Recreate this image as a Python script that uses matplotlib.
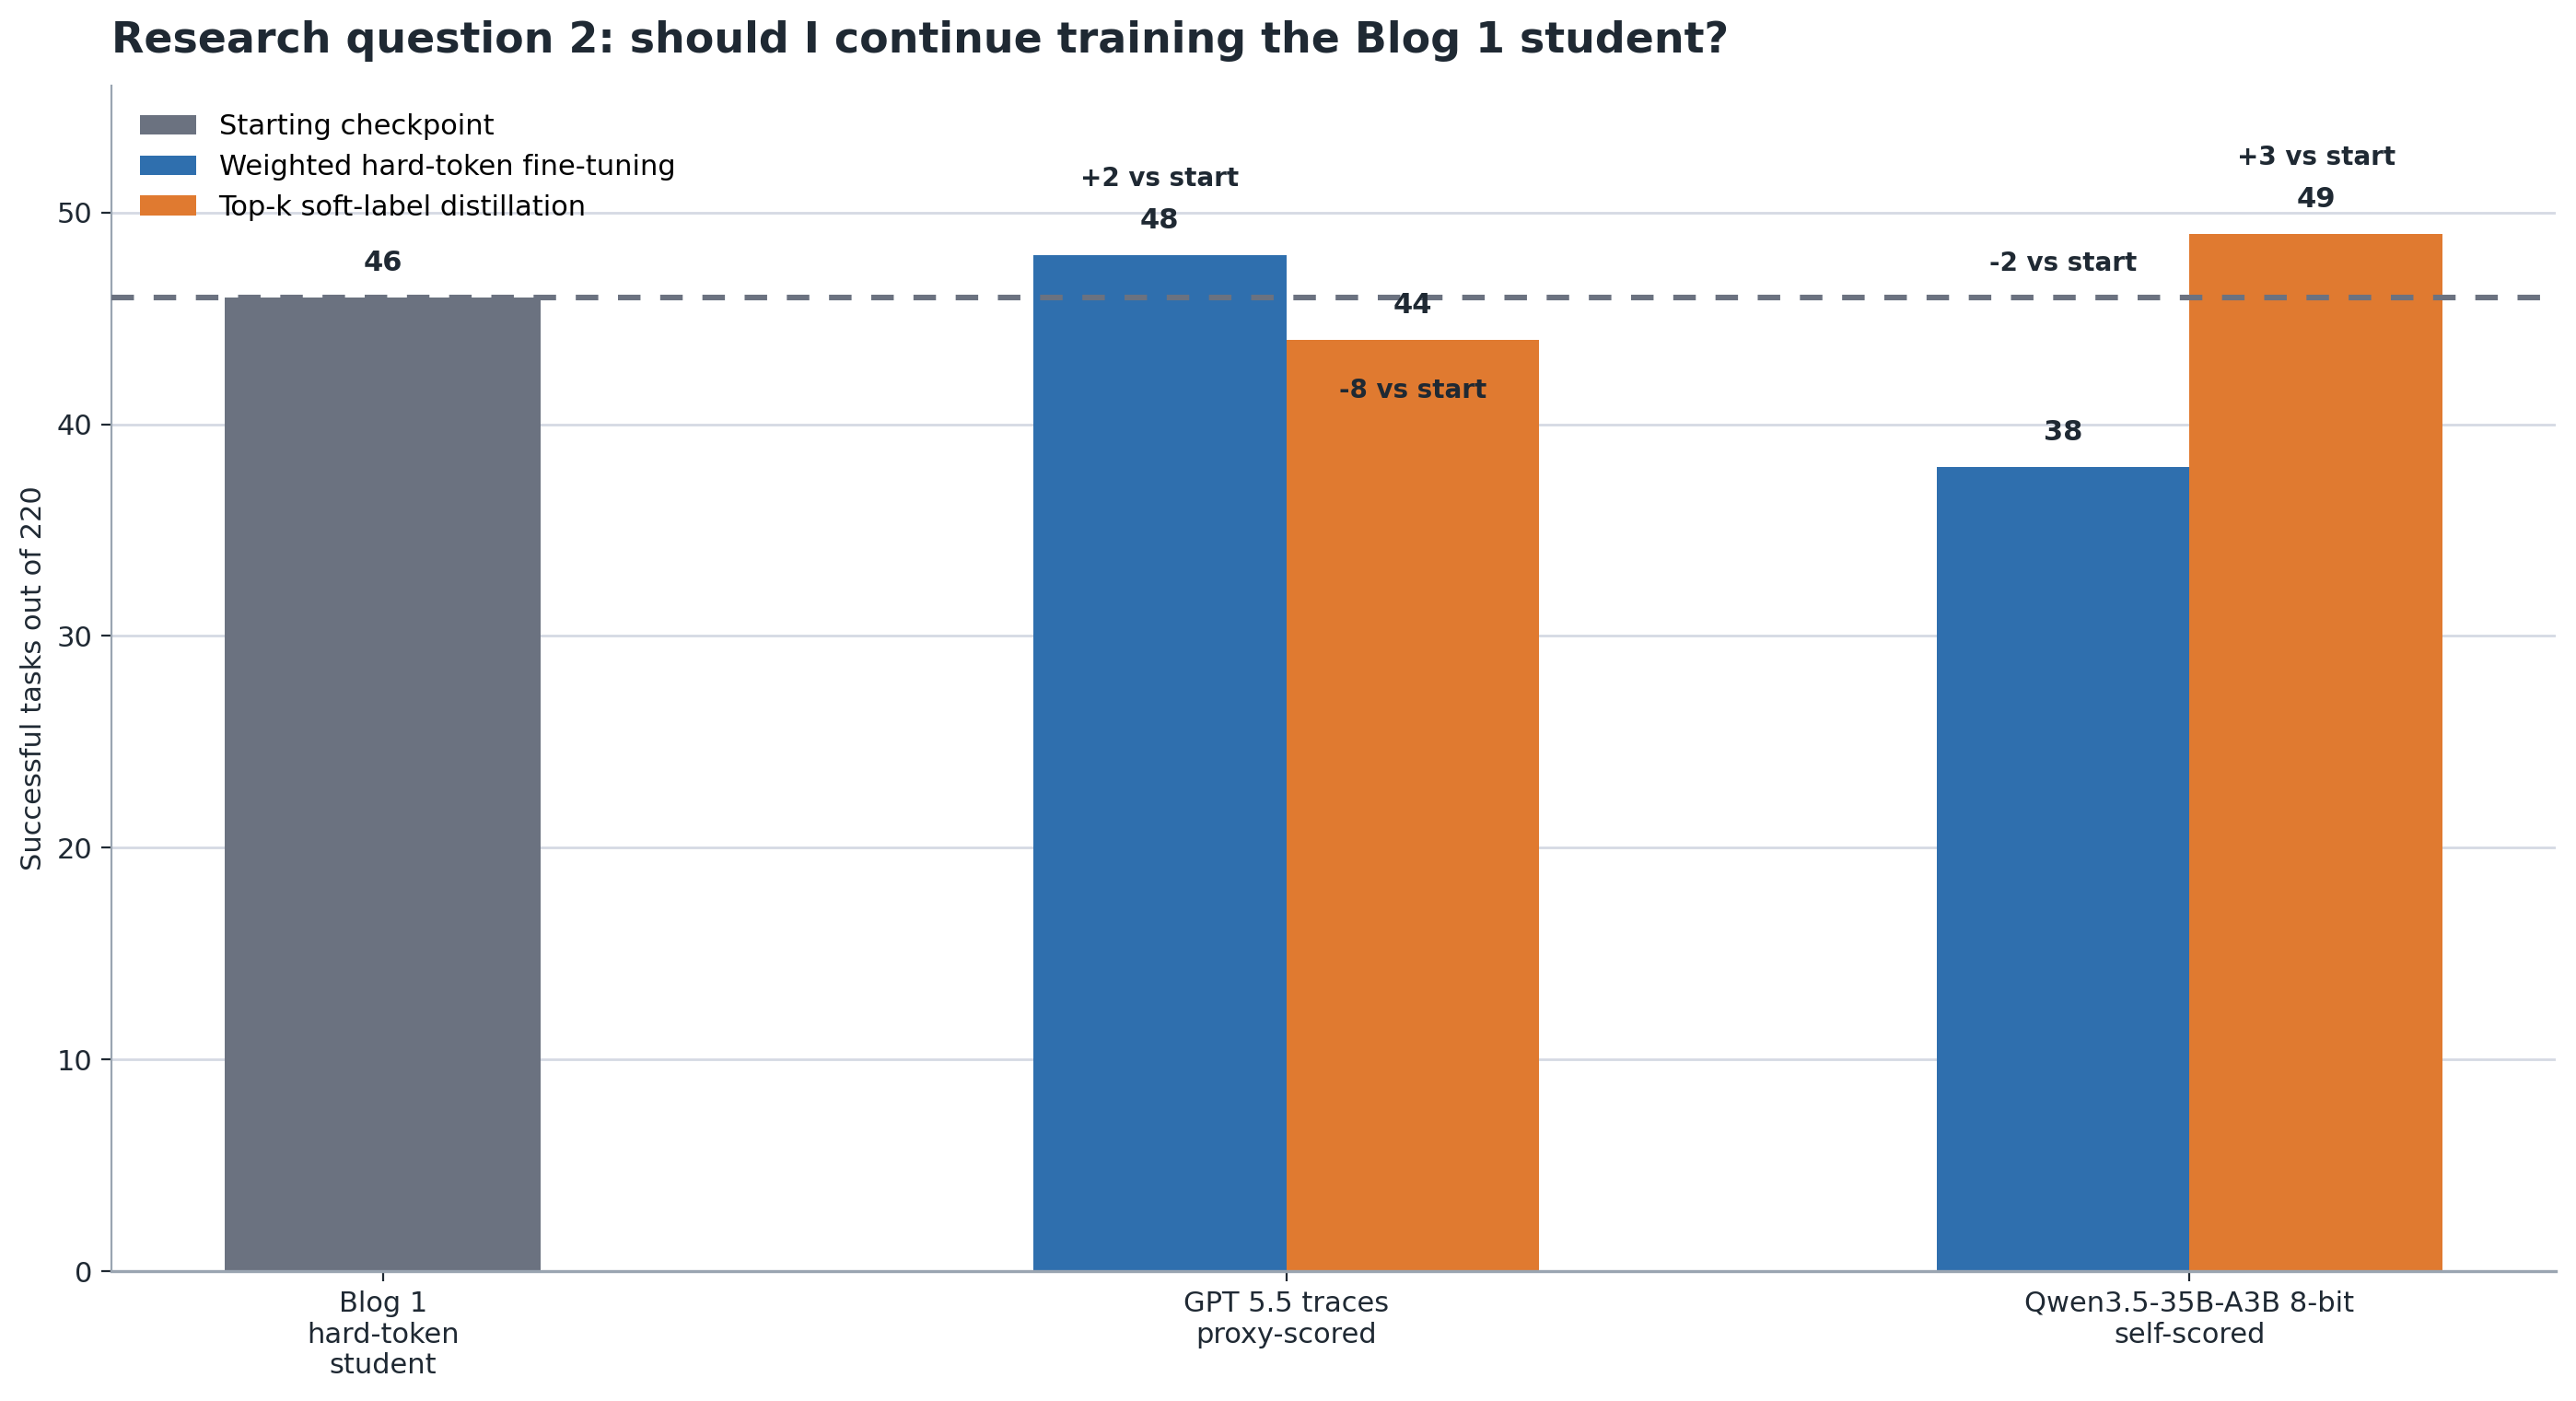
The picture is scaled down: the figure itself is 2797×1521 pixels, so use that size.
import numpy as np
import matplotlib
matplotlib.use("Agg")
import matplotlib.pyplot as plt

# ---- data ----
groups = ["Blog 1\nhard-token\nstudent", "GPT 5.5 traces\nproxy-scored", "Qwen3.5-35B-A3B 8-bit\nself-scored"]
start_score = 46
hard_token = [48, 38]        # GPT 5.5, Qwen
soft_label = [44, 49]
# delta labels and the bar heights they were anchored to (as drawn in the reference)
hard_delta_text = ["+2 vs start", "-2 vs start"]
hard_delta_anchor = [48, 44]
soft_delta_text = ["-8 vs start", "+3 vs start"]
soft_delta_anchor = [38, 49]

GRAY, BLUE, ORANGE = "#6b7280", "#2f6fae", "#e07a30"
INK = "#1f2933"

fig = plt.figure(figsize=(13.985, 7.605), dpi=200)
ax = fig.add_axes([0.0434, 0.0926, 0.9486, 0.8464])

x = np.arange(len(groups))
w_start, w = 0.35, 0.28

ax.bar(x[0], start_score, width=w_start, color=GRAY, label="Starting checkpoint", zorder=2)
ax.bar(x[1:] - w / 2, hard_token, width=w, color=BLUE, label="Weighted hard-token fine-tuning", zorder=2)
ax.bar(x[1:] + w / 2, soft_label, width=w, color=ORANGE, label="Top-k soft-label distillation", zorder=2)

ax.axhline(start_score, color=GRAY, ls=(0, (4, 3.5)), lw=2.2, zorder=3)

# value labels
lab_kw = dict(ha="center", va="center", fontsize=11, fontweight="bold", color=INK, zorder=4)
ax.text(x[0], start_score + 1.6, f"{start_score}", **lab_kw)
for xi, v in zip(x[1:] - w / 2, hard_token):
    ax.text(xi, v + 1.6, f"{v}", **lab_kw)
for xi, v in zip(x[1:] + w / 2, soft_label):
    ax.text(xi, v + 1.6, f"{v}", **lab_kw)

# delta labels
d_kw = dict(ha="center", va="center", fontsize=10, fontweight="bold", color=INK, zorder=4)
for xi, t, a in zip(x[1:] - w / 2, hard_delta_text, hard_delta_anchor):
    ax.text(xi, a + 3.6, t, **d_kw)
for xi, t, a in zip(x[1:] + w / 2, soft_delta_text, soft_delta_anchor):
    ax.text(xi, a + 3.6, t, **d_kw)

ax.set_xlim(-0.3, 2.405)
ax.set_ylim(0, 56)
ax.set_xticks(x)
ax.set_xticklabels(groups, fontsize=11, color=INK)
ax.set_yticks(np.arange(0, 51, 10))
ax.tick_params(axis="y", labelsize=11, labelcolor=INK, color=INK, length=4)
ax.tick_params(axis="x", color=INK, length=4)
ax.set_ylabel("Successful tasks out of 220", fontsize=11, color=INK)
ax.grid(axis="y", color="#d5d9e3", lw=1.0, zorder=0)
ax.set_axisbelow(True)
for s in ["top", "right"]:
    ax.spines[s].set_visible(False)
ax.spines["left"].set_color("#9aa5b1")
ax.spines["bottom"].set_color("#9aa5b1")
ax.spines["bottom"].set_linewidth(1.2)

ax.set_title("Research question 2: should I continue training the Blog 1 student?",
             loc="left", fontsize=16.5, fontweight="bold", color=INK, pad=13)
ax.legend(loc="upper left", frameon=False, fontsize=11, handlelength=2.0,
          borderaxespad=0.6, labelspacing=0.48)

fig.savefig("out.png", dpi=200)
